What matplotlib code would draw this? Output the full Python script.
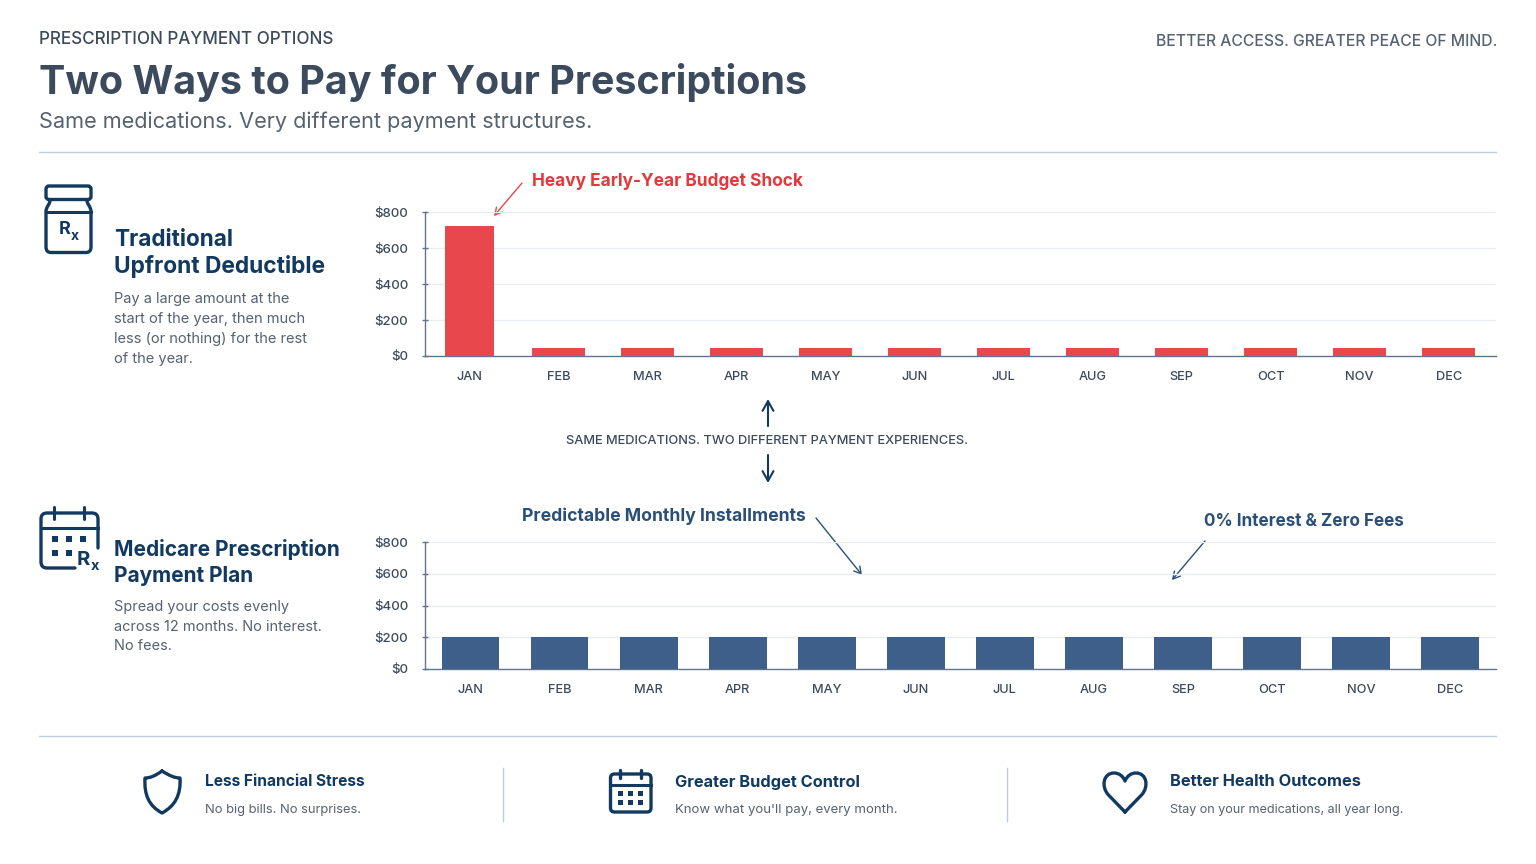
import matplotlib
matplotlib.use("Agg")
from matplotlib import pyplot as plt
from matplotlib.patches import FancyBboxPatch, Rectangle, PathPatch
from matplotlib.path import Path
import numpy as np

plt.rcParams['font.family'] = ['Inter', 'DejaVu Sans']

months = ["JAN", "FEB", "MAR", "APR", "MAY", "JUN", "JUL", "AUG", "SEP", "OCT", "NOV", "DEC"]
upfront_costs = [725, 45, 45, 45, 45, 45, 45, 45, 45, 45, 45, 45]
plan_costs = [200, 200, 200, 200, 200, 200, 200, 200, 200, 200, 200, 200]
y_ticks = [0, 200, 400, 600, 800]
y_labels = ["$0", "$200", "$400", "$600", "$800"]

W, H = 1536, 864
NAVY = "#12395f"
SLATE = "#3b4a5c"
GREY = "#55626f"
RED = "#e8474c"
BLUE = "#3e5f8a"
AXIS = "#64748a"
GRID = "#e9edf1"
RULE = "#c0ccd8"

fig = plt.figure(figsize=(W / 100, H / 100), dpi=100, facecolor="white")

# 全体の下敷き（ピクセル座標）
bg = fig.add_axes([0, 0, 1, 1])
bg.set_xlim(0, W)
bg.set_ylim(H, 0)
bg.axis("off")


def label(x, y, s, size, color=GREY, weight="normal", ha="left"):
    bg.text(x, y + 1.5, s, fontsize=size, color=color, fontweight=weight, ha=ha, va="center")


def stroke(verts, codes=None, lw=2.4, color=NAVY):
    bg.add_patch(PathPatch(Path(verts, codes), fill=False, ec=color, lw=lw,
                           capstyle="round", joinstyle="round"))


def round_box(x0, y0, x1, y1, r, lw=2.4):
    bg.add_patch(FancyBboxPatch((x0 + r, y0 + r), x1 - x0 - 2 * r, y1 - y0 - 2 * r,
                                boxstyle="round,pad=%f" % r, fill=False, ec=NAVY, lw=lw))


def dots(xs, y, s):
    for x in xs:
        bg.add_patch(Rectangle((x - s / 2, y - s / 2), s, s, fc=NAVY, ec="none"))


def chart(left, right, top, bottom, values, color, widths, x0):
    ax = fig.add_axes([left / W, 1 - bottom / H, (right - left) / W, (bottom - top) / H])
    ax.patch.set_alpha(0)
    ax.bar(range(len(months)), values, width=widths, color=color, zorder=3)
    ax.set_xlim((left - x0) / 89.05, (right - x0) / 89.05)
    ax.set_ylim(0, 800)
    ax.set_yticks(y_ticks, y_labels)
    ax.set_xticks(range(len(months)), months)
    ax.grid(axis="y", color=GRID, lw=1.0, zorder=0)
    for s in ["top", "right"]:
        ax.spines[s].set_visible(False)
    for s in ["left", "bottom"]:
        ax.spines[s].set_color(AXIS)
        ax.spines[s].set_linewidth(1.0)
    ax.tick_params(axis="y", direction="inout", length=5, width=1.0, color=AXIS,
                   labelsize=9.5, labelcolor=SLATE, pad=9.6)
    ax.tick_params(axis="x", length=0, labelsize=9.2, labelcolor=SLATE, pad=11)
    for t in ax.get_xticklabels() + ax.get_yticklabels():
        t.set_fontweight("medium")
    return ax


# ヘッダー
label(39, 37.5, "PRESCRIPTION PAYMENT OPTIONS", 12.3, SLATE, "medium")
label(1497, 39.5, "BETTER ACCESS. GREATER PEACE OF MIND.", 11.3, GREY, "medium", ha="right")
label(39, 80.5, "Two Ways to Pay for Your Prescriptions", 28.4, SLATE, "bold")
label(39, 120.5, "Same medications. Very different payment structures.", 15.6, GREY)
bg.plot([39, 1496], [152, 152], color=RULE, lw=1.0)
bg.plot([39, 1496], [736, 736], color=RULE, lw=1.0)

# 左側の説明
label(114, 239, "Traditional", 16.2, NAVY, "bold")
label(114, 265.5, "Upfront Deductible", 16.4, NAVY, "bold")
for y, s in zip([297, 317, 337, 357], ["Pay a large amount at the", "start of the year, then much",
                                       "less (or nothing) for the rest", "of the year."]):
    label(114, y, s, 10.55)
label(114, 548, "Medicare Prescription", 15.0, NAVY, "bold")
label(114, 574.5, "Payment Plan", 15.0, NAVY, "bold")
for y, s in zip([605, 625.5, 645], ["Spread your costs evenly", "across 12 months. No interest.", "No fees."]):
    label(114, y, s, 10.45)

# グラフ
chart(425, 1496, 212, 356, upfront_costs, RED, [0.55] + [0.6] * 11, 469.2)
chart(425, 1496, 542, 669, plan_costs, BLUE, 0.65, 470.5)

# 注釈
label(532, 179.5, "Heavy Early-Year Budget Shock", 12.45, "#e5383d", "bold")
label(522, 515, "Predictable Monthly Installments", 12.65, "#2c4f78", "bold")
label(1204, 520, "0% Interest & Zero Fees", 12.35, "#2c4f78", "bold")
label(767.5, 439, "SAME MEDICATIONS. TWO DIFFERENT PAYMENT EXPERIENCES.", 9.25, SLATE, "medium", ha="center")


def arrow(p0, p1, color, lw=1.0, scale=10):
    bg.annotate("", xy=p1, xytext=p0,
                arrowprops=dict(arrowstyle="->,head_length=0.5,head_width=0.28", color=color, lw=lw,
                                shrinkA=0, shrinkB=0, mutation_scale=scale))


arrow((522, 183), (494, 216), RED)
arrow((816, 518), (862, 575), "#2c4f78")
arrow((1205, 541), (1172, 580), "#2c4f78")
arrow((768, 426), (768, 399), NAVY, lw=1.5, scale=14)
arrow((768, 455), (768, 483), NAVY, lw=1.5, scale=14)

# 薬瓶アイコン
round_box(46, 186, 91, 199.5, 3)
stroke([(50, 200), (50, 205), (46, 206), (46, 212), (46, 247), (46, 252.5), (51, 252.5), (86, 252.5),
        (91, 252.5), (91, 247), (91, 212), (91, 206), (87, 205), (87, 200)],
       [Path.MOVETO, Path.CURVE4, Path.CURVE4, Path.CURVE4, Path.LINETO, Path.CURVE3, Path.CURVE3, Path.LINETO,
        Path.CURVE3, Path.CURVE3, Path.LINETO, Path.CURVE4, Path.CURVE4, Path.CURVE4])
bg.plot([46, 91], [212, 212], color=NAVY, lw=2.2)
label(59, 227.5, "R", 13, NAVY, "bold")
label(71, 235, "x", 10, NAVY, "bold")

# カレンダー + Rx アイコン
stroke([(98, 548), (98, 519), (98, 513), (92, 513), (47, 513), (41, 513), (41, 519),
        (41, 562), (41, 568), (47, 568), (75, 568)],
       [Path.MOVETO, Path.LINETO, Path.CURVE3, Path.CURVE3, Path.LINETO, Path.CURVE3, Path.CURVE3,
        Path.LINETO, Path.CURVE3, Path.CURVE3, Path.LINETO])
bg.plot([41, 98], [528, 528], color=NAVY, lw=2.2)
for x in [54, 84]:
    bg.plot([x, x], [507, 519], color=NAVY, lw=2.2, solid_capstyle="round")
dots([55, 69, 83], 539, 5.5)
dots([55, 69], 553, 5.5)
label(77, 558.5, "R", 14.5, NAVY, "bold")
label(90.5, 565, "x", 10.5, NAVY, "bold")

# 下段のアイコンと文言
stroke([(162, 771), (170, 776), (175, 778), (180, 778), (181, 795), (175, 806), (162, 813),
        (149, 806), (144, 795), (145, 778), (150, 778), (155, 776), (162, 771)],
       [Path.MOVETO] + [Path.CURVE4] * 12, lw=2.4)
round_box(610.5, 774, 651, 812, 4, lw=2.4)
bg.plot([611, 651], [785, 785], color=NAVY, lw=2.2)
for x in [620, 641]:
    bg.plot([x, x], [770, 778], color=NAVY, lw=2.4, solid_capstyle="round")
dots([620, 630, 640], 793, 5)
dots([620, 630, 640], 802, 5)
stroke([(1125, 812), (1108.5, 795), (1101, 787), (1103, 773), (1114, 773), (1119, 773), (1123, 776), (1125, 781),
        (1127, 776), (1131, 773), (1136, 773), (1147, 773), (1149, 787), (1141.5, 795), (1125, 812)],
       [Path.MOVETO, Path.LINETO] + [Path.CURVE4] * 12 + [Path.LINETO], lw=2.4)

for x in [503, 1007]:
    bg.plot([x, x], [768, 821], color=RULE, lw=1.0)

label(205, 780.5, "Less Financial Stress", 11.2, NAVY, "bold")
label(205, 808, "No big bills. No surprises.", 9.35)
label(675, 780.5, "Greater Budget Control", 11.8, NAVY, "bold")
label(675, 808, "Know what you'll pay, every month.", 9.5)
label(1170, 780.5, "Better Health Outcomes", 11.8, NAVY, "bold")
label(1170, 808, "Stay on your medications, all year long.", 9.05)

fig.savefig("out.png", dpi=100)
